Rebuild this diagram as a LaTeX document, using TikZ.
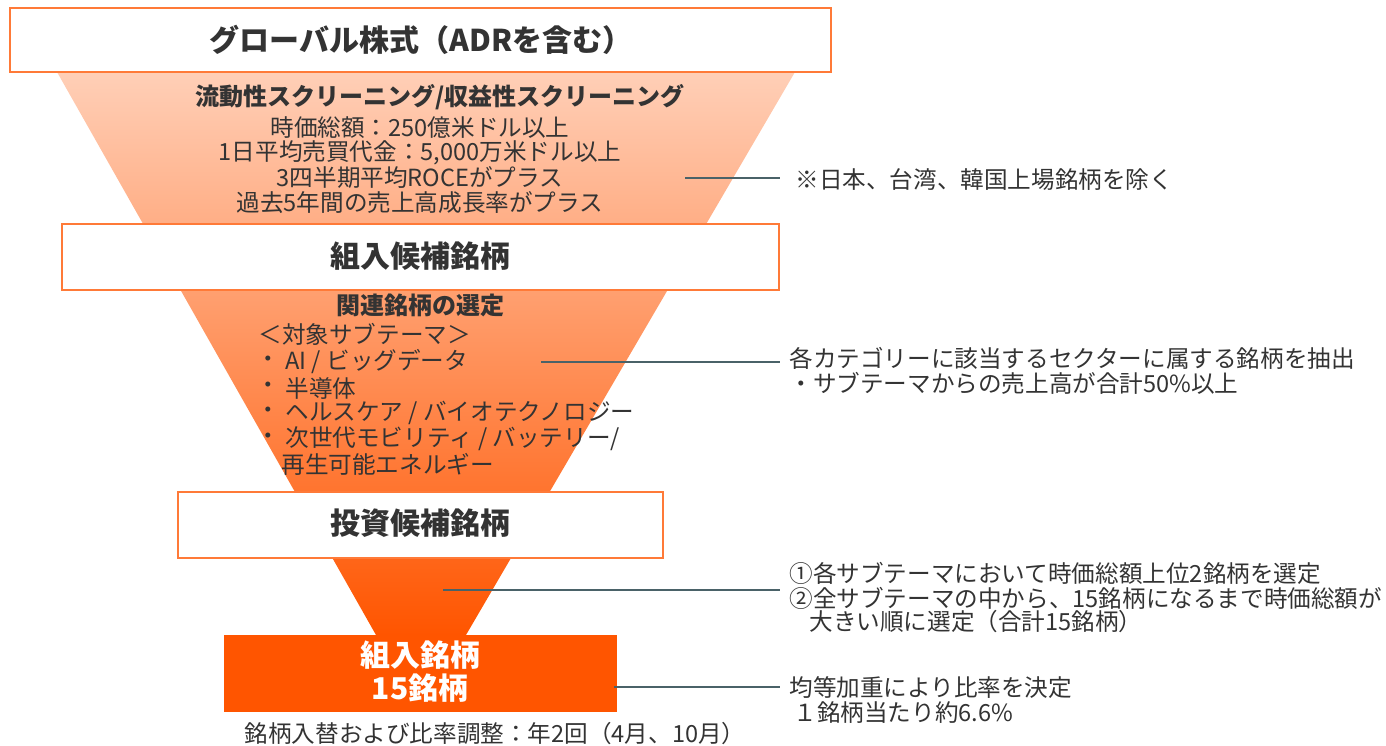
\documentclass[tikz,border=0pt]{standalone}
\usepackage{fontspec}
\setmainfont{Noto Sans CJK JP}
\usetikzlibrary{positioning}
\definecolor{boxline}{HTML}{FF7A38}
\definecolor{funtop}{HTML}{FFCFB7}
\definecolor{funmid}{HTML}{FF9260}
\definecolor{funbot}{HTML}{FF5500}
\definecolor{leadcol}{HTML}{4A6268}
\definecolor{txt}{HTML}{333333}
\tikzset{
	stage/.style={draw=boxline, line width=1pt, fill=white},
	heading/.style={font=\fontsize{15}{18}\selectfont\bfseries, text=txt, inner sep=0pt},
	subhead/.style={font=\fontsize{12}{14}\selectfont\bfseries, text=txt, inner sep=0pt},
	body/.style={font=\fontsize{11.8}{14}\selectfont, text=txt, inner sep=0pt},
	note/.style={body, anchor=west},
	leader/.style={draw=leadcol, line width=0.8pt},
}

\begin{document}
\begin{tikzpicture}[x=0.5pt, y=-0.5pt]
			%%%%% START %%%%%
			\useasboundingbox (0, 0) rectangle (1386, 745);
			
			% funnel
			\shade[top color=funtop, middle color=funmid, bottom color=funbot] (57, 72) -- (795, 72) -- (466, 635) -- (376, 635) -- cycle;
			
			% stage boxes
			\draw[stage] (10, 8) rectangle (831, 72);
			\draw[stage] (62, 224) rectangle (779, 290);
			\draw[stage] (178, 492) rectangle (663, 558);
			\fill[funbot] (224, 635) rectangle (617, 712);
			
			\node[heading] (global) at (421, 40) {グローバル株式（ADRを含む）};
			\node[heading] (cand) at (420, 256) {組入候補銘柄};
			\node[heading] (invest) at (420, 523) {投資候補銘柄};
			\node[heading, text=white] (port) at (420, 655) {組入銘柄};
			\node[heading, text=white] (port2) at (420, 688) {15銘柄};
			
			% screening
			\node[subhead] (scr) at (440, 97) {流動性スクリーニング/収益性スクリーニング};
			\node[body] (scr1) at (420, 128) {時価総額：250億米ドル以上};
			\node[body] (scr2) at (420, 153) {1日平均売買代金：5,000万米ドル以上};
			\node[body] (scr3) at (420, 178) {3四半期平均ROCEがプラス};
			\node[body] (scr4) at (420, 203) {過去5年間の売上高成長率がプラス};
			
			% themes
			\node[subhead] (sel) at (420, 305) {関連銘柄の選定};
			\node[note] (th0) at (258, 334) {＜対象サブテーマ＞};
			\foreach \y/\t [count=\i] in {362/{AI / ビッグデータ}, 388/{半導体}, 413/{ヘルスケア / バイオテクノロジー}, 439/{次世代モビリティ / バッテリー/}}{
				\node[note] (dot\i) at (256, \y) {・};
				\node[note] (th\i) at (285, \y) {\t};
			}
			\node[note] (th5) at (281, 464) {再生可能エネルギー};
			
			% notes on the right
			\node[note] (n1) at (795, 180) {※日本、台湾、韓国上場銘柄を除く};
			\node[note] (n2) at (789, 358) {各カテゴリーに該当するセクターに属する銘柄を抽出};
			\node[note] (n2b) at (789, 383) {・サブテーマからの売上高が合計50\%以上};
			\node[note] (n3) at (789, 573) {①各サブテーマにおいて時価総額上位2銘柄を選定};
			\node[note] (n3b) at (789, 598) {②全サブテーマの中から、15銘柄になるまで時価総額が};
			\node[note] (n3c) at (809, 622) {大きい順に選定（合計15銘柄）};
			\node[note] (n4) at (789, 688) {均等加重により比率を決定};
			\node[note] (n4b) at (793, 713) {１銘柄当たり約6.6\%};
			
			\node[body] (adj) at (495, 734) {銘柄入替および比率調整：年2回（4月、10月）};
			
			% leaders
			\coordinate (l1) at (685, 178);
			\coordinate (l2) at (541, 362);
			\coordinate (l3) at (443, 590);
			\coordinate (l4) at (614, 687);
			\draw[leader] (l1) -- ([xshift=-4.5pt]l1 -| n2.west);
			\draw[leader] (l2) -- ([xshift=-4.5pt]l2 -| n2.west);
			\draw[leader] (l3) -- ([xshift=-4.5pt]l3 -| n2.west);
			\draw[leader] (l4) -- ([xshift=-4.5pt]l4 -| n2.west);
			%%%%% END %%%%%
\end{tikzpicture}
\end{document}
